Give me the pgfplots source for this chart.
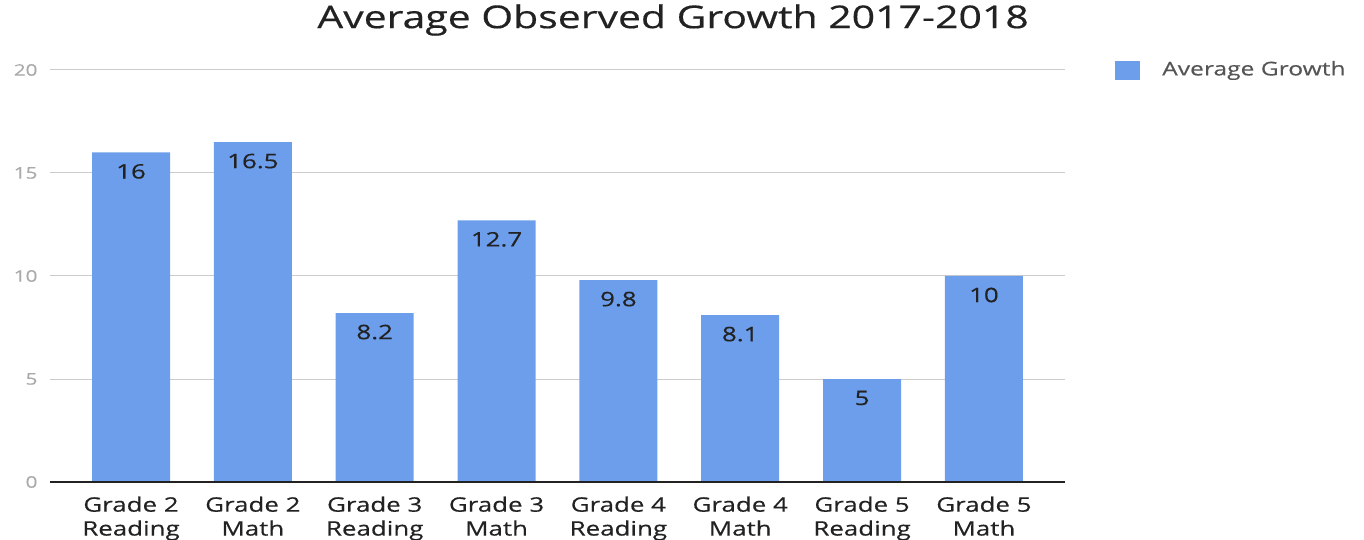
\documentclass[border=0pt]{standalone}
\usepackage{fontspec}
\setmainfont{Open Sans}[FakeStretch=1.3, FakeBold=0.4]
\usepackage{pgfplots}
\pgfplotsset{compat=1.18}
\definecolor{barblue}{HTML}{6D9EEB}
\definecolor{gridgray}{HTML}{CCCCCC}
\definecolor{ticklab}{HTML}{AAAAAA}
\definecolor{legtext}{HTML}{555555}
\definecolor{darktext}{HTML}{222222}
\begin{document}
\begin{tikzpicture}
\useasboundingbox (-50bp,-58bp) rectangle (1314bp,482bp);
\begin{axis}[
  at={(0,0)}, anchor=south west,
  scale only axis,
  width=1015bp, height=412bp,
  xmin=-0.665, xmax=7.665,
  ymin=0, ymax=20,
  ytick={0,5,10,15,20},
  xtick={0,1,2,3,4,5,6,7},
  xticklabels={{Grade 2\\Reading},{Grade 2\\Math},{Grade 3\\Reading},{Grade 3\\Math},{Grade 4\\Reading},{Grade 4\\Math},{Grade 5\\Reading},{Grade 5\\Math}},
  xticklabel style={align=center, font=\fontsize{20}{24}\selectfont, text=darktext, yshift=-11bp},
  yticklabel style={font=\fontsize{16}{19}\selectfont, text=ticklab, xshift=-9bp},
  /pgf/number format/assume math mode=true,
  ymajorgrids,
  grid style={gridgray, line width=1bp},
  axis line style={draw=none},
  major tick length=0pt,
  ybar, bar width=78bp,
  nodes near coords,
  nodes near coords style={anchor=center, yshift=-19bp, font=\fontsize{20}{24}\selectfont, text=darktext,
    /pgf/number format/.cd, fixed, precision=1},
  clip=false,
]
\addplot[fill=barblue, draw=none] coordinates {(0,16) (1,16.5) (2,8.2) (3,12.7) (4,9.8) (5,8.1) (6,5) (7,10)};
\draw[darktext, line width=1.5bp] (axis cs:-0.665,0) -- (axis cs:7.665,0);
\end{axis}
\node[font=\fontsize{31.6}{38}\selectfont, text=darktext] at (623bp, 462bp) {Average Observed Growth 2017-2018};
\fill[barblue] (1065bp, 402bp) rectangle (1090bp, 421bp);
\node[anchor=west, inner sep=0pt, font=\fontsize{19}{23}\selectfont, text=legtext] at (1112bp, 411.5bp) {Average Growth};
\end{tikzpicture}
\end{document}
